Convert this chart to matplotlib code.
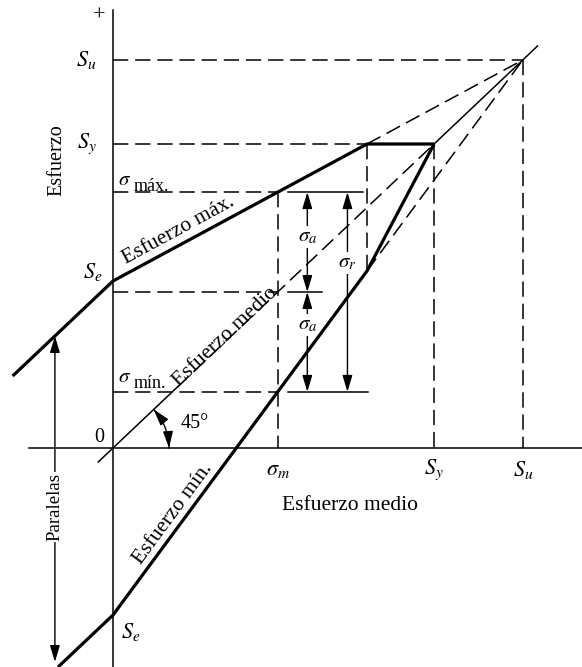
import numpy as np
import matplotlib.pyplot as plt

plt.rcParams['font.family'] = ['Liberation Serif', 'DejaVu Serif']
plt.rcParams['mathtext.fontset'] = 'stix'

Su = 388
Sy = 304
Se = 167
sig_m = 156
x_par = -55          # posicion de la flecha "Paralelas"
x_solid = 61         # fin del tramo continuo de la recta de 45 grados
r_ang = 56           # radio de la cota de 45 grados

# rectas de Goodman
def recta_sup(x):
    return Se + (Su - Se) / Su * x

def recta_inf(x):
    return -Se + (Su + Se) / Su * x

sig_max = recta_sup(sig_m)
sig_min = recta_inf(sig_m)
x_k = (Sy - Se) * Su / (Su - Se)
y_k = recta_inf(x_k)

fig = plt.figure(figsize=(5.82, 6.67), dpi=100)
ax = fig.add_axes([0, 0, 1, 1])
ax.set_xlim(-107, 444.1)
ax.set_ylim(-219, 448)
ax.axis('off')
kx = 582 / (444.1 + 107)  # pixeles por unidad en x (en y es 1)

thick = dict(color='k', lw=2.3, solid_capstyle='butt', solid_joinstyle='miter', zorder=3)
thin = dict(color='k', lw=1.1, zorder=3)
dash = dict(color='k', lw=1.1, dashes=(10, 4.5), zorder=3)

# ejes
ax.plot([0, 0], [-219, 438], **thin)
ax.plot([-80, 444], [0, 0], **thin)

# linea de 45 grados (esfuerzo medio)
ax.plot([-14, x_solid], [-14, x_solid], **thin)
ax.plot([x_solid, Sy], [x_solid, Sy], **dash)
ax.plot([Sy, 402], [Sy, 402], **thin)

# diagrama de Goodman modificado
ax.plot([-95, 0, x_k, Sy], [Se - 95, Se, Sy, Sy], **thick)
ax.plot([-52, 0, x_k, Sy], [-Se - 52, -Se, y_k, Sy], **thick)
ax.plot([x_k, Su], [Sy, Su], **dash)
ax.plot([x_k, Su], [y_k, Su], **dash)

# lineas de referencia
ax.plot([0, Su], [Su, Su], **dash)
ax.plot([0, x_k], [Sy, Sy], **dash)
ax.plot([0, sig_m], [sig_max, sig_max], **dash)
ax.plot([0, sig_m], [sig_m, sig_m], **dash)
ax.plot([0, sig_m], [sig_min, sig_min], **dash)
ax.plot([sig_m, sig_m], [sig_max, 0], **dash)
ax.plot([x_k, x_k], [Sy, y_k], **dash)
ax.plot([Sy, Sy], [Sy, 0], **dash)
ax.plot([Su, Su], [Su, 0], **dash)

# marcas de cota
ax.plot([166, 237], [sig_max, sig_max], **thin)
ax.plot([166, 241], [sig_min, sig_min], **thin)
ax.plot([166, 198], [sig_m, sig_m], **thin)

arr = dict(arrowstyle='<|-|>,head_length=1.0,head_width=0.3', color='k',
           lw=1.0, shrinkA=0, shrinkB=0)
head = dict(arrowstyle='-|>,head_length=1.0,head_width=0.3', color='k',
            lw=1.0, shrinkA=0, shrinkB=0)
fs = 15
box = dict(facecolor='white', edgecolor='none', pad=1.0)

ax.annotate('', xy=(184, sig_max), xytext=(184, sig_m), arrowprops=arr, zorder=1)
ax.annotate('', xy=(184, sig_m), xytext=(184, sig_min), arrowprops=arr, zorder=1)
ax.annotate('', xy=(222, sig_max), xytext=(222, sig_min), arrowprops=arr, zorder=1)
ax.text(184, 211, r'$\sigma_a$', fontsize=fs, ha='center', va='center', bbox=box, zorder=2)
ax.text(184, 123, r'$\sigma_a$', fontsize=fs, ha='center', va='center', bbox=box, zorder=2)
ax.text(222, 185, r'$\sigma_r$', fontsize=fs, ha='center', va='center', bbox=box, zorder=2)

# paralelas
ax.annotate('', xy=(x_par, recta_sup(0) + x_par), xytext=(x_par, -214), arrowprops=arr, zorder=1)
ax.text(x_par, -59, 'Paralelas', fontsize=13.5, rotation=90, ha='center', va='center',
        bbox=box, zorder=2)

# angulo de 45 grados
t_fin = np.arctan2(1, kx)
t = np.linspace(0, t_fin, 40)
ax.plot(r_ang * np.cos(t) / kx, r_ang * np.sin(t), color='k', lw=1.0)
ax.annotate('', xy=(r_ang / kx, 0), xytext=(r_ang * np.cos(0.12) / kx, r_ang * np.sin(0.12)),
            arrowprops=head)
ax.annotate('', xy=(r_ang * np.cos(t_fin) / kx, r_ang * np.sin(t_fin)),
            xytext=(r_ang * np.cos(t_fin - 0.12) / kx, r_ang * np.sin(t_fin - 0.12)),
            arrowprops=head)
ax.text(77, 24, '45°', fontsize=14.5, ha='center', va='center')

# etiquetas
ax.text(-13, 432, '+', fontsize=16, ha='center', va='center')
ax.text(-25, Su, r'$S_u$', fontsize=fs + 1, ha='center', va='center')
ax.text(-25, Sy, r'$S_y$', fontsize=fs + 1, ha='center', va='center')
ax.text(-19, Se + 9, r'$S_e$', fontsize=fs + 1, ha='center', va='center')
ax.text(17, -Se - 17, r'$S_e$', fontsize=fs + 1, ha='center', va='center')
ax.text(-13, 11, '0', fontsize=14.5, ha='center', va='center')
ax.text(11, sig_max + 12, r'$\sigma$', fontsize=fs, ha='center', va='center')
ax.text(20, sig_max + 6, 'máx.', fontsize=13, ha='left', va='center')
ax.text(11, sig_min + 14, r'$\sigma$', fontsize=fs, ha='center', va='center')
ax.text(20, sig_min + 8, 'mín.', fontsize=13, ha='left', va='center')

ax.text(sig_m, -22, r'$\sigma_m$', fontsize=fs + 1, ha='center', va='center')
ax.text(Sy, -22, r'$S_y$', fontsize=fs + 1, ha='center', va='center')
ax.text(Su, -22, r'$S_u$', fontsize=fs + 1, ha='center', va='center')
ax.text(224, -57, 'Esfuerzo medio', fontsize=15.5, ha='center', va='center')
ax.text(-53, 288, 'Esfuerzo', fontsize=14.5, rotation=90, ha='center', va='center')

ax.text(62, 218, 'Esfuerzo máx.', fontsize=15.5, rotation=28.4, ha='center', va='center')
ax.text(106, 111, 'Esfuerzo medio', fontsize=15.5, rotation=43.4, ha='center', va='center')
ax.text(57, -66, 'Esfuerzo mín.', fontsize=15.5, rotation=53.6, ha='center', va='center')

fig.savefig('out.png', dpi=100)
